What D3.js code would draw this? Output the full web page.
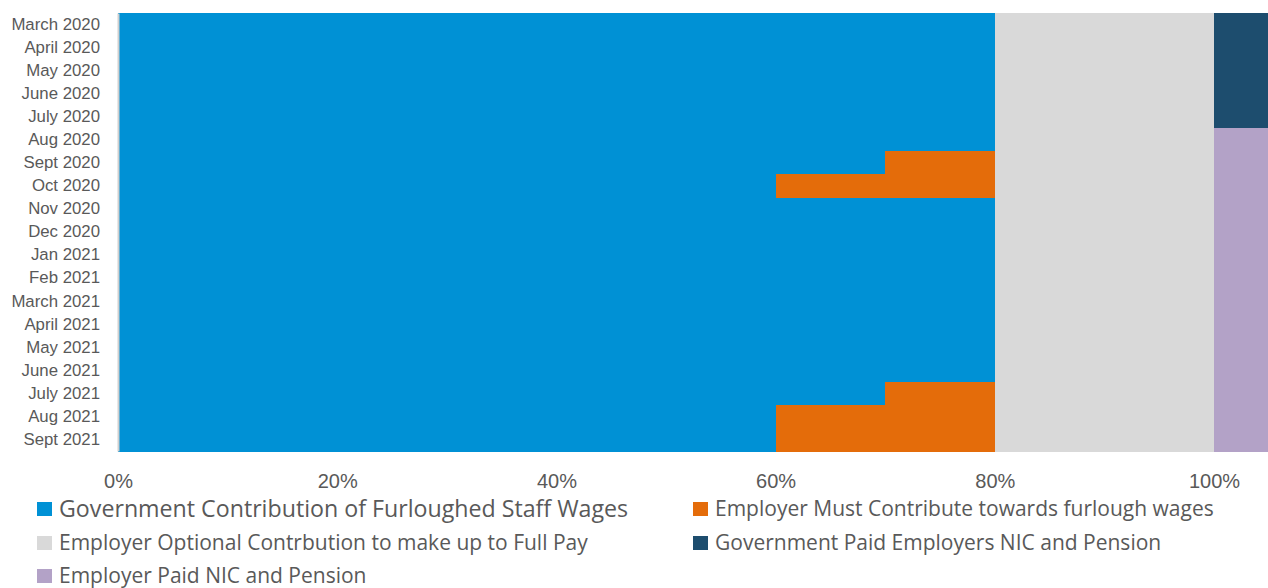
<!DOCTYPE html>
<html>
<head>
<meta charset="utf-8">
<script src="https://cdn.jsdelivr.net/npm/d3@7"></script>
<style>
  html, body { margin: 0; padding: 0; background: #ffffff; }
  svg { display: block; font-family: "Open Sans", "Liberation Sans", sans-serif; }
</style>
</head>
<body>
<svg id="chart" width="1268" height="588"></svg>
<script>
// Furlough scheme: share of pay by funder, month by month
const categories = [
  "March 2020", "April 2020", "May 2020", "June 2020", "July 2020",
  "Aug 2020", "Sept 2020", "Oct 2020", "Nov 2020", "Dec 2020",
  "Jan 2021", "Feb 2021", "March 2021", "April 2021", "May 2021",
  "June 2021", "July 2021", "Aug 2021", "Sept 2021"
];
const govWages        = [0.8, 0.8, 0.8, 0.8, 0.8, 0.8, 0.7, 0.6, 0.8, 0.8, 0.8, 0.8, 0.8, 0.8, 0.8, 0.8, 0.7, 0.6, 0.6];
const employerMust    = [0, 0, 0, 0, 0, 0, 0.1, 0.2, 0, 0, 0, 0, 0, 0, 0, 0, 0.1, 0.2, 0.2];
const employerOptional= [0.2, 0.2, 0.2, 0.2, 0.2, 0.2, 0.2, 0.2, 0.2, 0.2, 0.2, 0.2, 0.2, 0.2, 0.2, 0.2, 0.2, 0.2, 0.2];
const govNic          = [0.05, 0.05, 0.05, 0.05, 0.05, 0, 0, 0, 0, 0, 0, 0, 0, 0, 0, 0, 0, 0, 0];
const employerNic     = [0, 0, 0, 0, 0, 0.05, 0.05, 0.05, 0.05, 0.05, 0.05, 0.05, 0.05, 0.05, 0.05, 0.05, 0.05, 0.05, 0.05];
const tickValues      = [0, 0.2, 0.4, 0.6, 0.8, 1.0];

const seriesNames = [
  "Government Contribution of Furloughed Staff Wages",
  "Employer Must Contribute towards furlough wages",
  "Employer Optional Contrbution to make up to Full Pay",
  "Government Paid Employers NIC and Pension",
  "Employer Paid NIC and Pension"
];
const seriesValues = [govWages, employerMust, employerOptional, govNic, employerNic];
const colors = ["#0091D5", "#E46C0A", "#D9D9D9", "#1D4D6E", "#B3A2C7"];

const rows = categories.map((c, i) => {
  const r = { month: c };
  seriesNames.forEach((s, k) => { r[s] = seriesValues[k][i]; });
  return r;
});
const stacked = d3.stack().keys(seriesNames)(rows);

const svg = d3.select("#chart");
const x = d3.scaleLinear().domain([0, 1.05]).range([118, 1268.8]);
const y = d3.scaleBand().domain(categories).range([13, 451]).padding(0);

// Stacked bars
svg.append("g").selectAll("g")
  .data(stacked)
  .join("g")
  .attr("fill", (d, i) => colors[i])
  .selectAll("rect")
  .data(d => d)
  .join("rect")
  .attr("shape-rendering", "crispEdges")
  .attr("x", d => x(d[0]))
  .attr("y", d => y(d.data.month))
  .attr("width", d => Math.max(0, x(d[1]) - x(d[0])))
  .attr("height", y.bandwidth() + 0.6);

// Category axis
const yAxis = svg.append("g")
  .attr("transform", "translate(118,0)")
  .call(d3.axisLeft(y).tickSize(0).tickPadding(18));
yAxis.select(".domain").attr("stroke", "#D0D0D0").attr("stroke-width", 2);
yAxis.selectAll("text")
  .attr("fill", "#595959")
  .style("font-size", "16.8px");

// Value axis
const xAxis = svg.append("g")
  .attr("transform", "translate(0,451)")
  .call(d3.axisBottom(x).tickValues(tickValues).tickFormat(d3.format(".0%")).tickSize(0).tickPadding(23));
xAxis.select(".domain").remove();
xAxis.selectAll("text")
  .attr("fill", "#595959")
  .style("font-size", "20px");

// Legend
const legendItems = [
  { k: 0, x: 37, y: 509, size: 23.2 },
  { k: 1, x: 693, y: 509, size: 21 },
  { k: 2, x: 37, y: 543, size: 21 },
  { k: 3, x: 693, y: 543, size: 21 },
  { k: 4, x: 37, y: 576, size: 21 }
];
const legend = svg.append("g");
legendItems.forEach(it => {
  legend.append("rect")
    .attr("x", it.x).attr("y", it.y - 7)
    .attr("width", 15).attr("height", 14)
    .attr("fill", colors[it.k]);
  legend.append("text")
    .attr("x", it.x + 22).attr("y", it.y)
    .attr("dy", "0.35em")
    .attr("fill", "#595959")
    .style("font-size", it.size + "px")
    .text(seriesNames[it.k]);
});
</script>
</body>
</html>
